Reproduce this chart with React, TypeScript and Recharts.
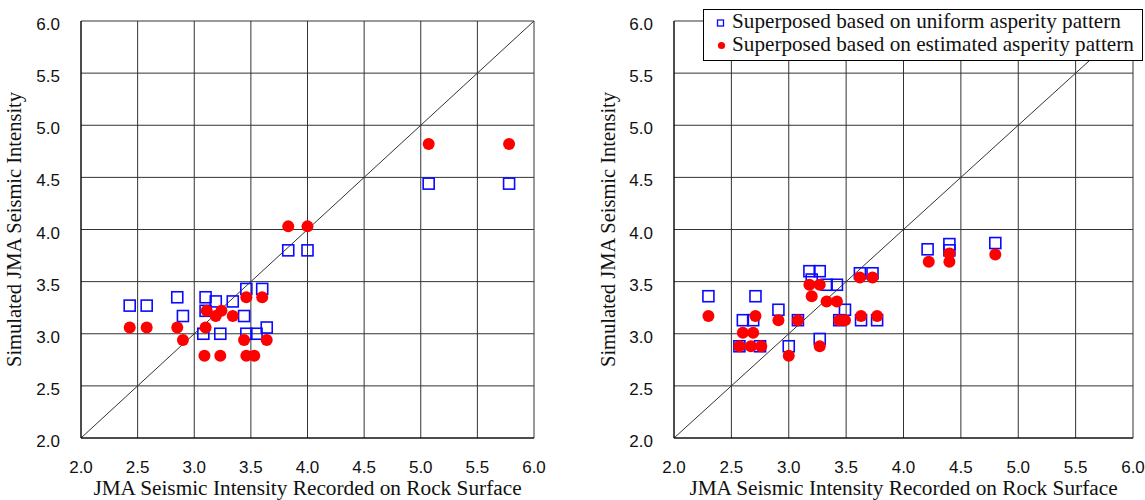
import React from 'react';
import {
  ScatterChart, Scatter, XAxis, YAxis, CartesianGrid, ReferenceLine, Legend,
} from 'recharts';

const axisTicks = [2.0, 2.5, 3.0, 3.5, 4.0, 4.5, 5.0, 5.5, 6.0];

// left panel
const leftUniform = [
  { x: 2.43, y: 3.27 }, { x: 2.58, y: 3.27 }, { x: 2.85, y: 3.35 }, { x: 2.9, y: 3.17 },
  { x: 3.1, y: 3.35 }, { x: 3.19, y: 3.31 }, { x: 3.34, y: 3.31 }, { x: 3.1, y: 3.22 },
  { x: 3.44, y: 3.17 }, { x: 3.46, y: 3.43 }, { x: 3.6, y: 3.43 }, { x: 3.08, y: 3.0 },
  { x: 3.23, y: 3.0 }, { x: 3.46, y: 3.0 }, { x: 3.55, y: 3.0 }, { x: 3.64, y: 3.06 },
  { x: 3.83, y: 3.8 }, { x: 4.0, y: 3.8 }, { x: 5.07, y: 4.44 }, { x: 5.78, y: 4.44 },
];
const leftEstimated = [
  { x: 2.43, y: 3.06 }, { x: 2.58, y: 3.06 }, { x: 2.85, y: 3.06 }, { x: 2.9, y: 2.94 },
  { x: 3.1, y: 3.06 }, { x: 3.11, y: 3.22 }, { x: 3.19, y: 3.17 }, { x: 3.24, y: 3.22 },
  { x: 3.34, y: 3.17 }, { x: 3.46, y: 3.35 }, { x: 3.6, y: 3.35 }, { x: 3.09, y: 2.79 },
  { x: 3.23, y: 2.79 }, { x: 3.46, y: 2.79 }, { x: 3.53, y: 2.79 }, { x: 3.44, y: 2.94 },
  { x: 3.64, y: 2.94 }, { x: 3.83, y: 4.03 }, { x: 4.0, y: 4.03 }, { x: 5.07, y: 4.82 },
  { x: 5.78, y: 4.82 },
];

// right panel
const rightUniform = [
  { x: 2.3, y: 3.36 }, { x: 2.71, y: 3.36 }, { x: 2.6, y: 3.13 }, { x: 2.69, y: 3.13 },
  { x: 2.57, y: 2.88 }, { x: 2.75, y: 2.88 }, { x: 2.91, y: 3.23 }, { x: 3.08, y: 3.13 },
  { x: 3.18, y: 3.6 }, { x: 3.27, y: 3.6 }, { x: 3.2, y: 3.52 }, { x: 3.33, y: 3.47 },
  { x: 3.42, y: 3.47 }, { x: 3.49, y: 3.23 }, { x: 3.44, y: 3.13 }, { x: 3.0, y: 2.88 },
  { x: 3.27, y: 2.95 }, { x: 3.62, y: 3.58 }, { x: 3.73, y: 3.58 }, { x: 3.63, y: 3.13 },
  { x: 3.77, y: 3.13 }, { x: 4.21, y: 3.81 }, { x: 4.4, y: 3.86 }, { x: 4.4, y: 3.8 },
  { x: 4.8, y: 3.87 },
];
const rightEstimated = [
  { x: 2.3, y: 3.17 }, { x: 2.71, y: 3.17 }, { x: 2.6, y: 3.01 }, { x: 2.69, y: 3.01 },
  { x: 2.57, y: 2.88 }, { x: 2.67, y: 2.88 }, { x: 2.76, y: 2.88 }, { x: 2.91, y: 3.13 },
  { x: 3.08, y: 3.13 }, { x: 3.0, y: 2.79 }, { x: 3.18, y: 3.47 }, { x: 3.27, y: 3.47 },
  { x: 3.2, y: 3.36 }, { x: 3.33, y: 3.31 }, { x: 3.42, y: 3.31 }, { x: 3.44, y: 3.13 },
  { x: 3.49, y: 3.13 }, { x: 3.27, y: 2.88 }, { x: 3.62, y: 3.54 }, { x: 3.73, y: 3.54 },
  { x: 3.63, y: 3.17 }, { x: 3.77, y: 3.17 }, { x: 4.22, y: 3.69 }, { x: 4.4, y: 3.77 },
  { x: 4.4, y: 3.69 }, { x: 4.8, y: 3.76 },
];

const seriesNames = [
  'Superposed based on uniform asperity pattern',
  'Superposed based on estimated asperity pattern',
];

const SANS = '"Liberation Sans", Arial, sans-serif';
const SERIF = '"Liberation Serif", "Times New Roman", serif';
const BLUE = '#0a0aff';
const RED = '#ff0000';

const SquareDot = (p: any) => (
  <rect x={p.cx - 5.5} y={p.cy - 5.5} width={11} height={11} fill="none" stroke={BLUE} strokeWidth={1.6} />
);
const RoundDot = (p: any) => <circle cx={p.cx} cy={p.cy} r={6} fill={RED} />;

const yTitle = (bx: number) => (props: any) => {
  const vb = props.viewBox;
  const cy = vb.y + vb.height / 2;
  return (
    <text transform={`translate(${bx},${cy}) rotate(-90)`} textAnchor="middle"
      style={{ fontFamily: SERIF, fontSize: 20.5, fill: '#111' }}>
      Simulated JMA Seismic Intensity
    </text>
  );
};

const xTitle = (props: any) => {
  const vb = props.viewBox;
  return (
    <text x={vb.x + vb.width / 2} y={495} textAnchor="middle"
      style={{ fontFamily: SERIF, fontSize: 21.3, fill: '#111' }}>
      JMA Seismic Intensity Recorded on Rock Surface
    </text>
  );
};

const LegendBox = () => (
  <div style={{
    border: '1px solid #000', background: '#fff', width: 440, height: 52, boxSizing: 'border-box',
    fontFamily: SERIF, fontSize: 21.2, lineHeight: '23px', color: '#111', paddingTop: 0,
  }}>
    <div style={{ display: 'flex', alignItems: 'center', whiteSpace: 'nowrap' }}>
      <svg width={28} height={23}><rect x={13.5} y={10} width={6} height={6} fill="none" stroke={BLUE} strokeWidth={1.3} /></svg>
      <span>{seriesNames[0]}</span>
    </div>
    <div style={{ display: 'flex', alignItems: 'center', whiteSpace: 'nowrap' }}>
      <svg width={28} height={23}><circle cx={17.5} cy={12.5} r={3.6} fill={RED} /></svg>
      <span>{seriesNames[1]}</span>
    </div>
  </div>
);

function Panel({ uniform, estimated, width, yAxisWidth, rightMargin, titleX, legend }: any) {
  return (
    <ScatterChart width={width} height={500} margin={{ top: 21, right: rightMargin, bottom: 0, left: 0 }}>
      <CartesianGrid stroke="#333" strokeWidth={1} ticks={axisTicks} />
      <XAxis type="number" dataKey="x" domain={[2, 6]} ticks={axisTicks} height={62}
        tickFormatter={(v: number) => v.toFixed(1)} tickLine={false} tickSize={0} tickMargin={23}
        axisLine={{ stroke: '#000' }} tick={{ fill: '#111', fontSize: 17, fontFamily: SANS }}
        label={{ content: xTitle }} />
      <YAxis type="number" dataKey="y" domain={[2, 6]} ticks={axisTicks} width={yAxisWidth}
        tickFormatter={(v: number) => v.toFixed(1)} tickLine={false} tickSize={0} tickMargin={21}
        axisLine={{ stroke: '#000' }} tick={{ fill: '#111', fontSize: 17, fontFamily: SANS, dy: 3 }}
        label={{ content: yTitle(titleX) }} />
      <ReferenceLine segment={[{ x: 2, y: 2 }, { x: 6, y: 6 }]} stroke="#333" strokeWidth={1} />
      {legend && (
        <Legend layout="horizontal" verticalAlign="middle" align="center"
          wrapperStyle={{ left: 143, top: 9, width: 440, height: 52 }} content={() => <LegendBox />} />
      )}
      <Scatter name={seriesNames[0]} data={uniform} shape={SquareDot} isAnimationActive={false} />
      <Scatter name={seriesNames[1]} data={estimated} shape={RoundDot} isAnimationActive={false} />
    </ScatterChart>
  );
}

export default function App() {
  return (
    <div style={{ position: 'absolute', left: 0, top: 0, width: 1145, height: 500, background: '#fff', display: 'flex' }}>
      <Panel uniform={leftUniform} estimated={leftEstimated} width={560} yAxisWidth={81}
        rightMargin={26} titleX={21} legend={false} />
      <Panel uniform={rightUniform} estimated={rightEstimated} width={585} yAxisWidth={114}
        rightMargin={12} titleX={55} legend={true} />
    </div>
  );
}
